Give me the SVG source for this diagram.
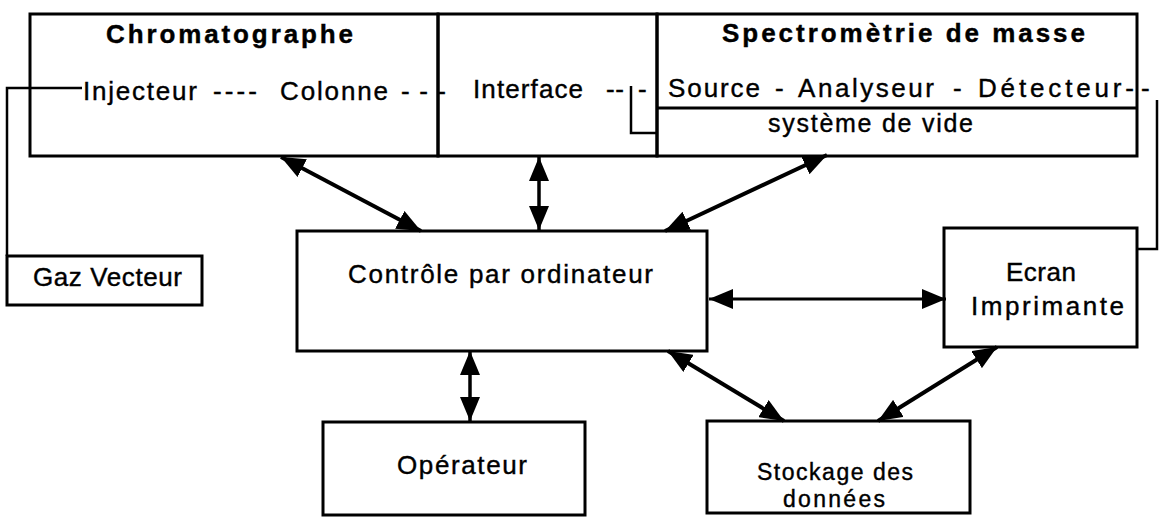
<svg xmlns="http://www.w3.org/2000/svg" width="1159" height="517" viewBox="0 0 1159 517">
<style>
.box{fill:none;stroke:#000;stroke-width:3}
.t{font-family:"Liberation Sans",Arial,Helvetica,sans-serif;font-size:26px;fill:#000;stroke:#000;stroke-width:0.4}
.b{font-weight:bold;font-size:26px}
.s{font-size:25px}
.xs{font-size:23px}
.arr{stroke:#000;stroke-width:4;fill:none;marker-start:url(#ah);marker-end:url(#ah)}
.ln{stroke:#000;stroke-width:2.5;fill:none}
</style>
<defs>
<marker id="ah" markerUnits="userSpaceOnUse" markerWidth="24" markerHeight="20" refX="24" refY="10" orient="auto-start-reverse">
<path d="M0,0 L24,10 L0,20 Z" fill="#000"/>
</marker>
</defs>
<rect width="1159" height="517" fill="#fff"/>

<g id="connectors">
<polyline class="ln" points="82,88 7,88 7,256"/>
<polyline class="ln" points="631,86 631,133 657,133"/>
<polyline class="ln" points="1157,100 1157,249 1137,249"/>
<line class="arr" x1="281" y1="157" x2="421" y2="231"/>
<line class="arr" x1="539" y1="157" x2="539" y2="230" style="stroke-width:3.5"/>
<line class="arr" x1="665" y1="231" x2="827" y2="155"/>
<line class="arr" x1="709" y1="299" x2="946" y2="299" style="stroke-width:3"/>
<line class="arr" x1="470" y1="351" x2="470" y2="421" style="stroke-width:3.5"/>
<line class="arr" x1="668" y1="351" x2="784" y2="421"/>
<line class="arr" x1="878" y1="421" x2="997" y2="347"/>
</g>

<g id="chromatographe">
<rect class="box" x="30" y="14" width="408" height="142"/>
<text class="t b" x="106" y="43" textLength="247" lengthAdjust="spacing">Chromatographe</text>
<text class="t" y="100"><tspan x="83" textLength="114" lengthAdjust="spacing">Injecteur</tspan><tspan x="213" textLength="44" lengthAdjust="spacing">----</tspan><tspan x="280" textLength="108" lengthAdjust="spacing">Colonne</tspan><tspan x="401" textLength="45" lengthAdjust="spacing">---</tspan></text>
</g>

<g id="interface">
<rect class="box" x="438" y="14" width="219" height="142"/>
<text class="t" y="98"><tspan x="473" textLength="110" lengthAdjust="spacing">Interface</tspan><tspan x="606" textLength="18" lengthAdjust="spacing">--</tspan><tspan x="638">-</tspan></text>
</g>

<g id="spectrometrie">
<rect class="box" x="657" y="14" width="480" height="142"/>
<line class="box" x1="657" y1="108" x2="1137" y2="108"/>
<text class="t b" x="722" y="42" textLength="363" lengthAdjust="spacing">Spectromètrie  de  masse</text>
<text class="t" y="97"><tspan x="668" textLength="92" lengthAdjust="spacing">Source</tspan><tspan x="775">-</tspan><tspan x="798" textLength="136" lengthAdjust="spacing">Analyseur</tspan><tspan x="953">-</tspan><tspan x="978" textLength="156" lengthAdjust="spacing">Détecteur-</tspan><tspan x="1141">-</tspan></text>
<text class="t s" x="768" y="132" textLength="205" lengthAdjust="spacing">système de vide</text>
</g>

<g id="gaz-vecteur">
<rect class="box" x="7" y="256" width="195" height="49"/>
<text class="t" x="33" y="286" textLength="149" lengthAdjust="spacing">Gaz Vecteur</text>
</g>

<g id="controle">
<rect class="box" x="297" y="231" width="410" height="120"/>
<text class="t" x="348" y="283" textLength="305" lengthAdjust="spacing">Contrôle  par  ordinateur</text>
</g>

<g id="ecran">
<rect class="box" x="944" y="228" width="193" height="119"/>
<text class="t" x="1006" y="281" textLength="70" lengthAdjust="spacing">Ecran</text>
<text class="t" x="971" y="315" textLength="153" lengthAdjust="spacing">Imprimante</text>
</g>

<g id="operateur">
<rect class="box" x="323" y="422" width="262" height="93"/>
<text class="t" x="397" y="474" textLength="130" lengthAdjust="spacing">Opérateur</text>
</g>

<g id="stockage">
<rect class="box" x="707" y="421" width="263" height="92"/>
<text class="t xs" x="757" y="480" textLength="156" lengthAdjust="spacing">Stockage des</text>
<text class="t xs" x="783" y="507" textLength="102" lengthAdjust="spacing">données</text>
</g>
</svg>
